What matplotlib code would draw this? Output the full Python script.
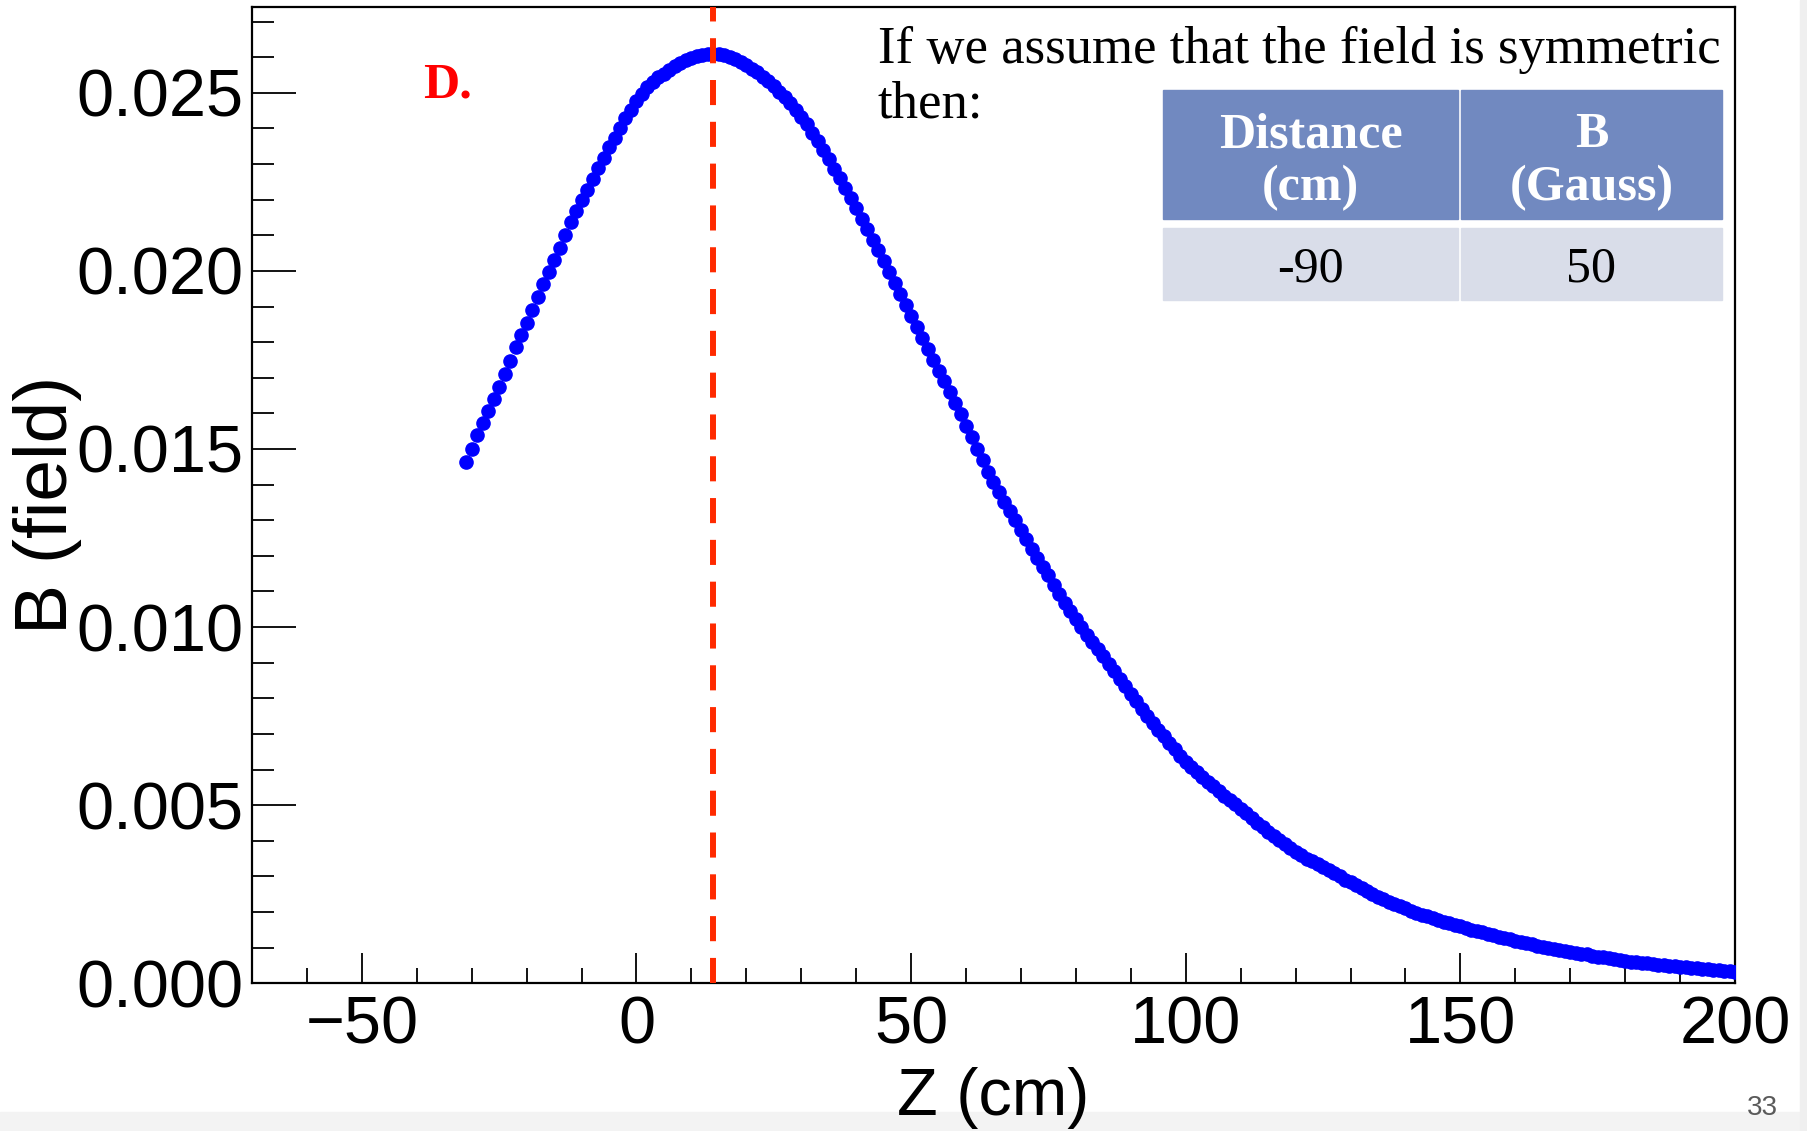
import numpy as np
import matplotlib.pyplot as plt
from matplotlib.ticker import MultipleLocator, FormatStrFormatter
from matplotlib.patches import Rectangle

plt.rcParams['font.family'] = ['Liberation Sans', 'DejaVu Sans']

# measured field along the axis, one point per cm
z_cm = np.arange(-31, 201)
b_milli = [
    14.63, 15.00, 15.39, 15.74, 16.07, 16.39, 16.74, 17.11, 17.47, 17.85,
    18.19, 18.54, 18.90, 19.26, 19.62, 19.98, 20.31, 20.65, 21.02, 21.36,
    21.68, 21.98, 22.28, 22.58, 22.88, 23.18, 23.47, 23.74, 24.02, 24.29,
    24.53, 24.76, 24.96, 25.15, 25.30, 25.43, 25.54, 25.65, 25.75, 25.84,
    25.91, 25.97, 26.02, 26.06, 26.09, 26.10, 26.09, 26.06, 26.01, 25.95,
    25.87, 25.78, 25.68, 25.57, 25.45, 25.32, 25.18, 25.03, 24.87, 24.70,
    24.52, 24.32, 24.11, 23.88, 23.64, 23.39, 23.13, 22.87, 22.60, 22.33,
    22.05, 21.76, 21.47, 21.18, 20.88, 20.58, 20.28, 19.98, 19.67, 19.36,
    19.05, 18.74, 18.43, 18.12, 17.81, 17.50, 17.20, 16.90, 16.60, 16.29,
    15.97, 15.65, 15.33, 15.00, 14.68, 14.36, 14.06, 13.78, 13.52, 13.26,
    13.00, 12.73, 12.47, 12.20, 11.95, 11.70, 11.45, 11.19, 10.93, 10.68,
    10.45, 10.22, 10.00, 9.79, 9.58, 9.38, 9.18, 8.97, 8.76, 8.55,
    8.34, 8.13, 7.92, 7.71, 7.50, 7.30, 7.11, 6.93, 6.75, 6.57,
    6.39, 6.21, 6.07, 5.93, 5.79, 5.66, 5.53, 5.40, 5.27, 5.15,
    5.02, 4.90, 4.77, 4.64, 4.51, 4.38, 4.26, 4.14, 4.03, 3.92,
    3.81, 3.70, 3.59, 3.50, 3.42, 3.34, 3.26, 3.18, 3.09, 3.00,
    2.91, 2.83, 2.75, 2.67, 2.59, 2.51, 2.43, 2.36, 2.29, 2.22,
    2.16, 2.10, 2.04, 1.98, 1.93, 1.88, 1.83, 1.78, 1.73, 1.69,
    1.64, 1.60, 1.55, 1.51, 1.47, 1.43, 1.39, 1.35, 1.31, 1.28,
    1.24, 1.20, 1.17, 1.13, 1.10, 1.06, 1.03, 1.00, 0.97, 0.94,
    0.91, 0.88, 0.86, 0.83, 0.81, 0.78, 0.75, 0.73, 0.70, 0.68,
    0.65, 0.63, 0.61, 0.59, 0.57, 0.56, 0.54, 0.52, 0.51, 0.49,
    0.48, 0.46, 0.45, 0.43, 0.42, 0.41, 0.39, 0.38, 0.37, 0.35,
    0.34, 0.33,
]
b_field = np.array(b_milli) * 1e-3

z_peak = 14

header_top = ["Distance", "B"]
header_bottom = ["(cm)", "(Gauss)"]
row_values = ["-90", "50"]

W, H = 1808, 1131


def fx(px):
    return px / W


def fy(py):
    return 1 - py / H


fig = plt.figure(figsize=(W / 100, H / 100), dpi=100)

# slide background strips
fig.patches.append(Rectangle((0, 0), 1, fy(1112), transform=fig.transFigure,
                             color='#f3f3f3', zorder=-2))
fig.patches.append(Rectangle((fx(1800), 0), 1 - fx(1800), 1, transform=fig.transFigure,
                             color='#efefef', zorder=-2))

ax = fig.add_axes([fx(252), fy(983.3), fx(1735) - fx(252), fy(7.3) - fy(983.3)])

ax.plot(z_cm, b_field, 'o', color='blue', ms=9.5, mec='blue', zorder=3)
ax.axvline(z_peak, color='#ff2a00', lw=4.3, dashes=(4.2, 2.8), zorder=4)

ax.set_xlim(-70, 200)
ax.set_ylim(0, 0.0274)
ax.xaxis.set_major_locator(MultipleLocator(50))
ax.xaxis.set_minor_locator(MultipleLocator(10))
ax.yaxis.set_major_locator(MultipleLocator(0.005))
ax.yaxis.set_minor_locator(MultipleLocator(0.001))
ax.yaxis.set_major_formatter(FormatStrFormatter('%.3f'))

ax.tick_params(which='both', direction='in', top=False, right=False, width=1.3,
               labelsize=48, color='black')
ax.tick_params(axis='y', which='major', length=32, pad=6)
ax.tick_params(axis='y', which='minor', length=16)
ax.tick_params(axis='x', which='major', length=21.6, pad=9)
ax.tick_params(axis='x', which='minor', length=10.8)
for s in ax.spines.values():
    s.set_linewidth(1.6)

ax.set_xlabel('Z (cm)', fontsize=48, va='center')
ax.xaxis.set_label_coords(0.5, -0.1175)
ax.set_ylabel('B (field)', fontsize=54, va='center')
ax.yaxis.set_label_coords(-0.138, 0.49)

# notes on the slide
serif = ['Liberation Serif', 'DejaVu Serif']
fig.text(fx(423), fy(97), 'D.', color='red', fontsize=36, fontweight='bold',
         family=serif, va='baseline')
fig.text(fx(878), fy(63), 'If we assume that the field is symmetric', fontsize=38,
         family=serif, va='baseline')
fig.text(fx(878), fy(118), 'then:', fontsize=38, family=serif, va='baseline')

# small table
col_edges = [(1163, 1458), (1461, 1722)]
for (x0, x1), top, bottom, val in zip(col_edges, header_top, header_bottom, row_values):
    fig.patches.append(Rectangle((fx(x0), fy(219)), fx(x1) - fx(x0), fy(90) - fy(219),
                                 transform=fig.transFigure, color='#7189c0', zorder=5))
    fig.patches.append(Rectangle((fx(x0), fy(300)), fx(x1) - fx(x0), fy(228) - fy(300),
                                 transform=fig.transFigure, color='#d9dde9', zorder=5))
    xc = fx((x0 + x1) / 2)
    fig.text(xc, fy(147), top, color='white', fontsize=36, fontweight='bold',
             family=serif, ha='center', va='baseline', zorder=6)
    fig.text(xc, fy(200), bottom, color='white', fontsize=36, fontweight='bold',
             family=serif, ha='center', va='baseline', zorder=6)
    fig.text(xc, fy(282), val, color='black', fontsize=36,
             family=serif, ha='center', va='baseline', zorder=6)

fig.text(fx(1762), fy(1108), '33', color='#5a5a5a', fontsize=20, ha='center', va='center')

fig.savefig('out.png', dpi=100)
